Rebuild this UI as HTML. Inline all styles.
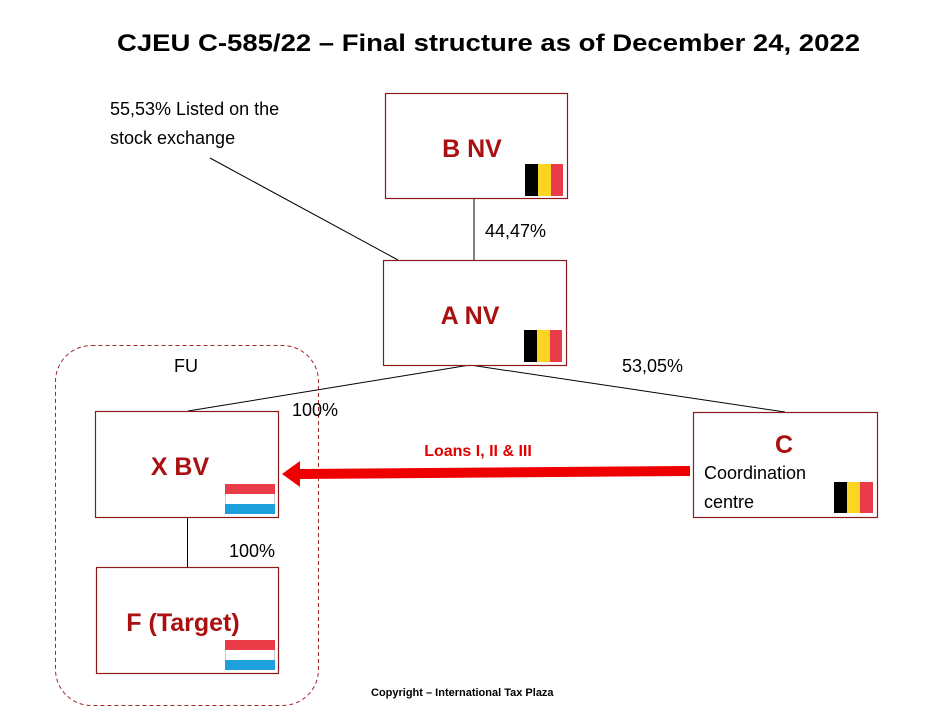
<!DOCTYPE html>
<html><head><meta charset="utf-8"><style>
html,body{margin:0;padding:0;background:#fff;}
svg{display:block;font-family:"Liberation Sans",sans-serif;}
</style></head><body>
<svg width="936" height="720" viewBox="0 0 936 720" xmlns="http://www.w3.org/2000/svg">
<rect width="936" height="720" fill="#fff"/>
<text x="117" y="51" font-size="24" font-weight="bold" fill="#000" textLength="743" lengthAdjust="spacingAndGlyphs">CJEU C-585/22 – Final structure as of December 24, 2022</text>

<rect x="55.5" y="345.5" width="263" height="360" rx="36" fill="none" stroke="#a0282c" stroke-width="1" stroke-dasharray="4,3"/>
<text x="174" y="372" font-size="18" fill="#000">FU</text>

<g stroke="#000" stroke-width="1">
<line x1="210" y1="158" x2="398" y2="260"/>
<line x1="474" y1="198" x2="474" y2="260"/>
<line x1="470" y1="365" x2="188" y2="411"/>
<line x1="470" y1="365" x2="785" y2="412"/>
<line x1="187.5" y1="517" x2="187.5" y2="567"/>
</g>

<g fill="#fff" stroke="#8b1a1a" stroke-width="1.2">
<rect x="385.5" y="93.5" width="182" height="105"/>
<rect x="383.5" y="260.5" width="183" height="105"/>
<rect x="95.5" y="411.5" width="183" height="106"/>
<rect x="96.5" y="567.5" width="182" height="106"/>
<rect x="693.5" y="412.5" width="184" height="105"/>
</g>

<g font-weight="bold" fill="#aa1010" text-anchor="middle">
<text x="472" y="157" font-size="25">B NV</text>
<text x="470" y="324" font-size="25">A NV</text>
<text x="180" y="475" font-size="25">X BV</text>
<text x="183" y="631" font-size="25">F (Target)</text>
<text x="784" y="453" font-size="25">C</text>
<text x="478" y="456" font-size="16" fill="#e00000">Loans I, II &amp; III</text>
</g>

<g font-size="18" fill="#000">
<text x="110" y="115">55,53% Listed on the</text>
<text x="110" y="144">stock exchange</text>
<text x="485" y="237">44,47%</text>
<text x="622" y="372">53,05%</text>
<text x="292" y="416">100%</text>
<text x="229" y="557">100%</text>
<text x="704" y="479">Coordination</text>
<text x="704" y="508">centre</text>
</g>
<text x="371" y="696" font-size="11" font-weight="bold" fill="#000">Copyright – International Tax Plaza</text>

<polygon points="690,466 300,469 300,461 282,474 300,487 300,479 690,476" fill="#ee0000"/>

<g>
<rect x="525" y="164" width="13" height="32" fill="#000"/><rect x="538" y="164" width="13" height="32" fill="#fad522"/><rect x="551" y="164" width="12" height="32" fill="#ea3b48"/>
<rect x="524" y="330" width="13" height="32" fill="#000"/><rect x="537" y="330" width="13" height="32" fill="#fad522"/><rect x="550" y="330" width="12" height="32" fill="#ea3b48"/>
<rect x="834" y="482" width="13" height="31" fill="#000"/><rect x="847" y="482" width="13" height="31" fill="#fad522"/><rect x="860" y="482" width="13" height="31" fill="#ea3b48"/>
</g>
<g>
<rect x="225.5" y="484.5" width="49" height="29" fill="#fff" stroke="#ccc" stroke-width="1"/>
<rect x="225" y="484" width="50" height="10" fill="#ea3b48"/><rect x="225" y="504" width="50" height="10" fill="#1ea0dc"/>
<rect x="225.5" y="640.5" width="49" height="29" fill="#fff" stroke="#ccc" stroke-width="1"/>
<rect x="225" y="640" width="50" height="10" fill="#ea3b48"/><rect x="225" y="660" width="50" height="10" fill="#1ea0dc"/>
</g>
</svg>
</body></html>
